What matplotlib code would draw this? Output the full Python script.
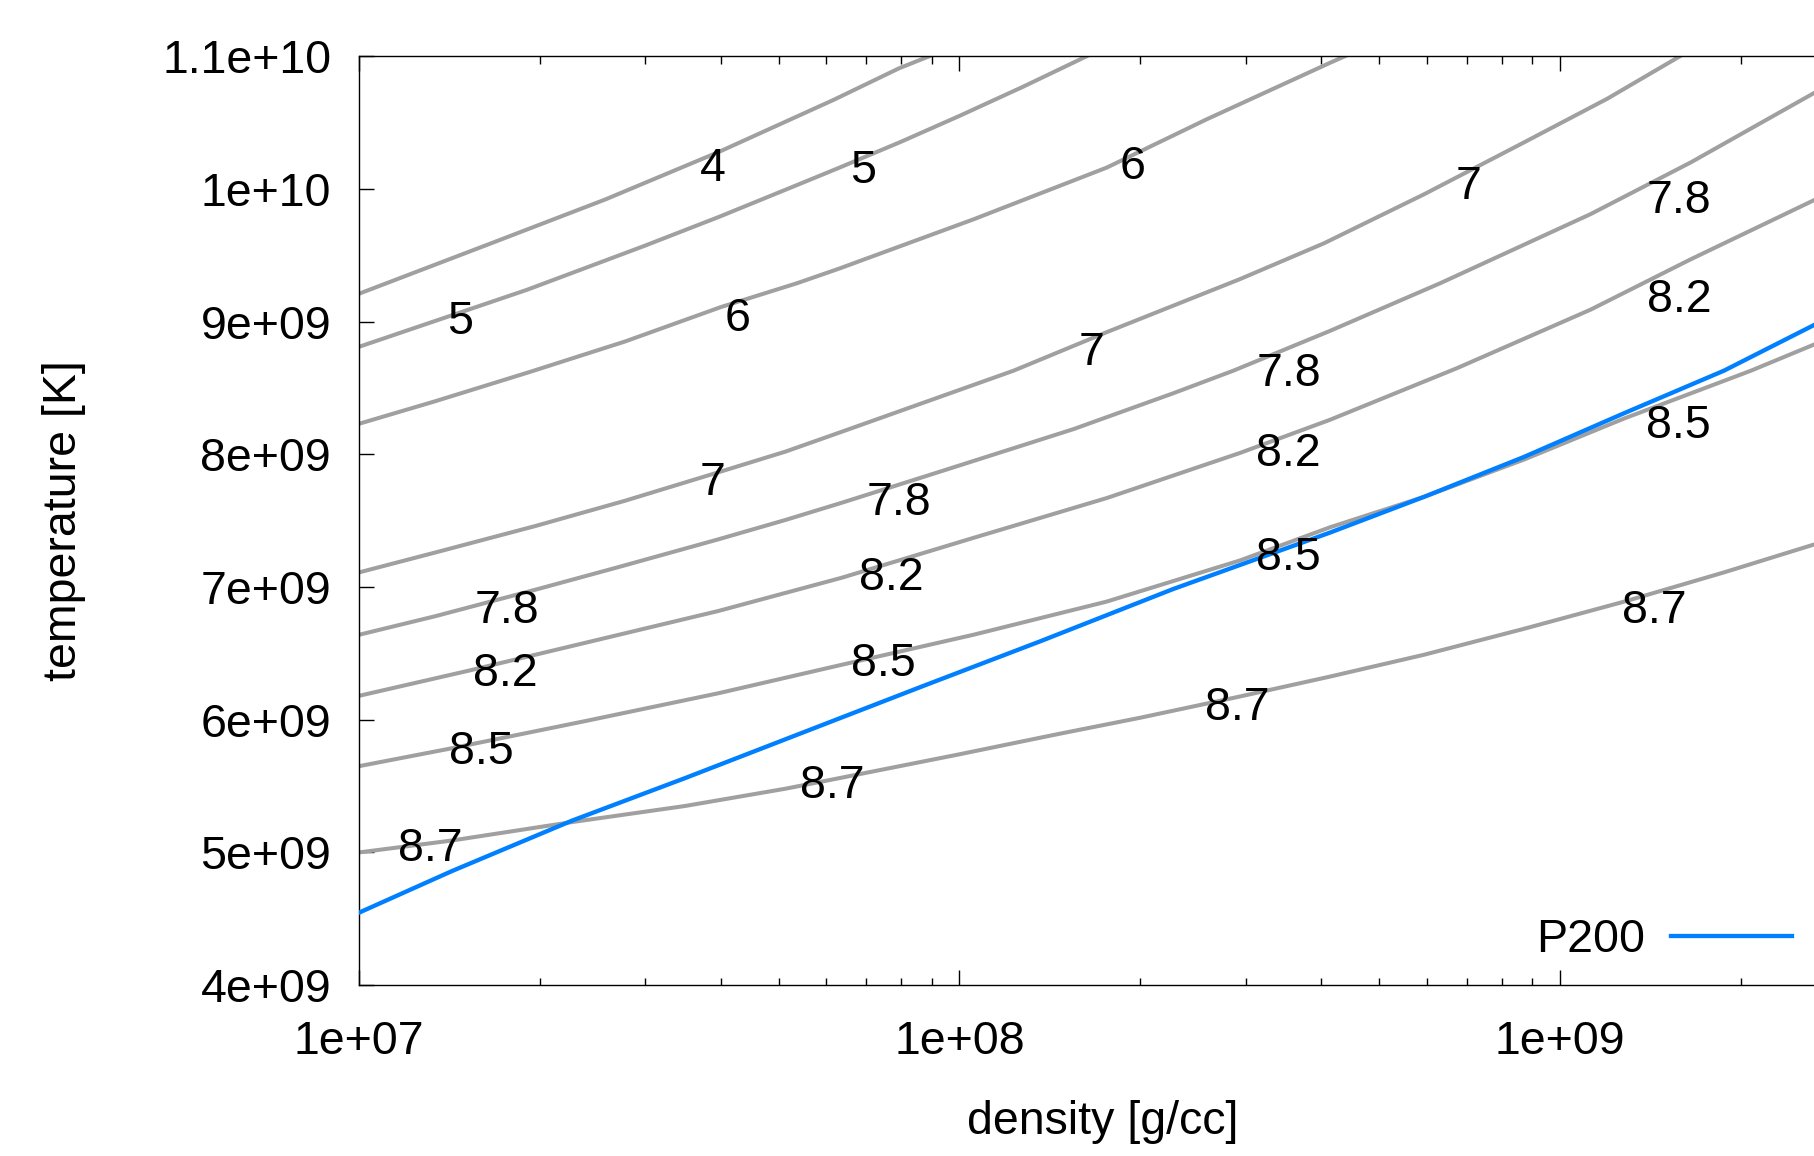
import numpy as np
import matplotlib
matplotlib.use('Agg')
import matplotlib.pyplot as plt
from matplotlib.ticker import FuncFormatter, NullFormatter

plt.rcParams['font.family'] = ['Liberation Sans', 'DejaVu Sans']

# contour lines: log10(density [g/cc]) and temperature [1e9 K]
lr_4 = [7.0, 7.22, 7.41, 7.60, 7.79, 7.90, 7.95]
t_4 = [9.21, 9.59, 9.92, 10.28, 10.67, 10.91, 11.0]

lr_5 = [7.0, 7.28, 7.475, 7.60, 7.73, 7.80, 7.90, 8.0, 8.106, 8.212]
t_5 = [8.81, 9.24, 9.57, 9.79, 10.03, 10.16, 10.35, 10.55, 10.77, 11.0]

lr_6 = [7.0, 7.127, 7.284, 7.443, 7.603, 7.73, 7.80, 8.023, 8.245, 8.412, 8.617, 8.642]
t_6 = [8.23, 8.40, 8.62, 8.85, 9.11, 9.29, 9.40, 9.77, 10.16, 10.525, 10.95, 11.0]

lr_7 = [7.0, 7.127, 7.294, 7.443, 7.588, 7.71, 7.804, 8.09, 8.245, 8.467, 8.607, 8.774, 8.94, 9.079, 9.2]
t_7 = [7.11, 7.26, 7.46, 7.65, 7.85, 8.02, 8.17, 8.63, 8.92, 9.32, 9.59, 9.96, 10.35, 10.68, 11.0]

lr_78 = [7.0, 7.127, 7.294, 7.432, 7.599, 7.71, 7.804, 7.968, 8.19, 8.356, 8.456, 8.617, 8.801, 9.051, 9.218, 9.43]
t_78 = [6.64, 6.78, 6.98, 7.15, 7.36, 7.505, 7.635, 7.87, 8.19, 8.46, 8.63, 8.93, 9.29, 9.81, 10.2, 10.74]

lr_82 = [7.0, 7.183, 7.294, 7.599, 7.804, 8.023, 8.245, 8.467, 8.617, 8.829, 9.051, 9.218, 9.43]
t_82 = [6.18, 6.37, 6.49, 6.82, 7.07, 7.37, 7.67, 8.01, 8.26, 8.65, 9.09, 9.47, 9.93]

lr_85 = [7.0, 7.149, 7.377, 7.599, 7.80, 8.023, 8.245, 8.467, 8.617, 8.774, 8.94, 9.107, 9.318, 9.43]
t_85 = [5.65, 5.78, 5.99, 6.20, 6.41, 6.64, 6.89, 7.20, 7.45, 7.68, 7.96, 8.27, 8.63, 8.84]

lr_87 = [7.0, 7.155, 7.349, 7.543, 7.71, 7.80, 7.995, 8.162, 8.301, 8.467, 8.617, 8.774, 8.94, 9.107, 9.273, 9.43]
t_87 = [5.0, 5.09, 5.225, 5.35, 5.48, 5.56, 5.735, 5.89, 6.015, 6.175, 6.325, 6.49, 6.685, 6.89, 7.11, 7.33]

# P200 track
lr_p200 = [7.0, 7.155, 7.355, 7.543, 7.80, 7.94, 8.134, 8.356, 8.617, 8.774, 8.94, 9.107, 9.273, 9.43]
t_p200 = [4.546, 4.86, 5.24, 5.56, 6.01, 6.255, 6.59, 6.985, 7.41, 7.68, 7.98, 8.31, 8.63, 8.99]

contours = [(lr_4, t_4), (lr_5, t_5), (lr_6, t_6), (lr_7, t_7), (lr_78, t_78),
            (lr_82, t_82), (lr_85, t_85), (lr_87, t_87)]

# contour labels (text, log10 density, temperature [1e9 K])
lab_txt = ['4', '5', '5', '6', '6', '7', '7', '7',
           '7.8', '7.8', '7.8', '7.8', '8.2', '8.2', '8.2', '8.2',
           '8.5', '8.5', '8.5', '8.5', '8.7', '8.7', '8.7', '8.7']
lab_lr = [7.590, 7.840, 7.169, 7.631, 8.288, 7.589, 8.220, 8.848,
          7.246, 7.900, 8.548, 9.198, 7.244, 7.887, 8.548, 9.198,
          7.204, 7.873, 8.548, 9.198, 7.119, 7.789, 8.462, 9.157]
lab_t = [10.19, 10.17, 9.035, 9.06, 10.20, 7.825, 8.80, 10.05,
         6.858, 7.674, 8.64, 9.947, 6.38, 7.109, 8.038, 9.199,
         5.795, 6.456, 7.259, 8.252, 5.062, 5.539, 6.129, 6.858]

fs = 33.5
fig = plt.figure(figsize=(18.14, 11.56), dpi=100)
ax = fig.add_axes([0.1979, 0.1478, 0.8200, 0.8036])

for lr, t in contours:
    ax.plot(10 ** np.array(lr), np.array(t) * 1e9, color='#a0a0a0', lw=2.9,
            solid_joinstyle='round', zorder=2)

ax.plot(10 ** np.array(lr_p200), np.array(t_p200) * 1e9, color='#0080ff', lw=3.1,
        solid_joinstyle='round', zorder=3, label='P200')

for s, x, y in zip(lab_txt, lab_lr, lab_t):
    ax.text(10 ** x, y * 1e9, s, fontsize=fs, ha='center', va='center_baseline', zorder=4)

ax.set_xscale('log')
ax.set_xlim(1e7, 3e9)
ax.set_ylim(4e9, 1.1e10)
ax.set_yticks(np.arange(4e9, 1.1e10 + 1, 1e9))
fmt = FuncFormatter(lambda v, p: '%g' % v)
ax.xaxis.set_major_formatter(fmt)
ax.xaxis.set_minor_formatter(NullFormatter())
ax.yaxis.set_major_formatter(fmt)

ax.tick_params(which='both', direction='in', top=True, right=True, width=1.0,
               labelsize=fs)
ax.tick_params(which='major', length=10.8)
ax.tick_params(which='minor', length=5.4)
ax.tick_params(axis='x', pad=25)
ax.tick_params(axis='y', pad=20)
for sp in ax.spines.values():
    sp.set_linewidth(1.0)

ax.set_xlabel('density [g/cc]', fontsize=fs, va='center')
ax.xaxis.set_label_coords(0.5, -0.1473)
ax.set_ylabel('temperature [K]', fontsize=fs, va='center')
ax.yaxis.set_label_coords(-0.1983, 0.5)

leg = ax.legend(loc='center right', bbox_to_anchor=(0.9634, 0.0487), frameon=False,
                fontsize=fs, markerfirst=False, handlelength=2.6, handletextpad=0.56,
                borderpad=0, borderaxespad=0)

fig.savefig('out.png', dpi=100)
